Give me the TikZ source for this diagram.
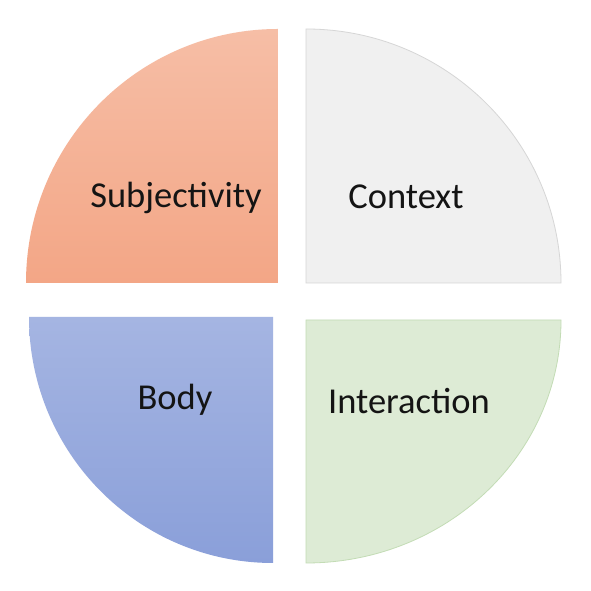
\documentclass[tikz,border=0pt]{standalone}
\usepackage{fontspec}
\setmainfont{Carlito}
\definecolor{orgT}{HTML}{F6BEA6}
\definecolor{orgB}{HTML}{F3A686}
\definecolor{bluT}{HTML}{A5B5E2}
\definecolor{bluB}{HTML}{8A9FD9}
\definecolor{gryF}{HTML}{F0F0F0}
\definecolor{gryD}{HTML}{D6D6D6}
\definecolor{grnF}{HTML}{DDEBD5}
\definecolor{grnD}{HTML}{C3DCB5}
\tikzset{
  lbl/.style={font=\fontsize{36.5}{40}\selectfont, text=black!92, inner sep=0pt, anchor=center},
}
\begin{document}
\begin{tikzpicture}[x=1pt,y=1pt]
\useasboundingbox (0,0) rectangle (591,591);
\fill[white] (0,0) rectangle (591,591);
% top-left
\shade[top color=orgT, bottom color=orgB] (278,308) -- (278,562) arc[start angle=90, end angle=180, x radius=252, y radius=254] -- cycle;
% top-right
\filldraw[fill=gryF, draw=gryD, line width=0.8pt] (306,308) -- (306,562) arc[start angle=90, end angle=0, x radius=255, y radius=254] -- cycle;
% bottom-left
\shade[top color=bluT, bottom color=bluB] (273,274) -- (273,28) arc[start angle=270, end angle=180, x radius=244, y radius=246] -- cycle;
% bottom-right
\filldraw[fill=grnF, draw=grnD, line width=0.8pt] (306,271) -- (306,28) arc[start angle=270, end angle=360, x radius=255, y radius=243] -- cycle;
\node[lbl] (subj) at (176,393) {Subjectivity};
\node[lbl] (ctx) at (406,394) {Context};
\node[lbl] (body) at (175,191) {Body};
\node[lbl] (inter) at (409,190) {Interaction};
\end{tikzpicture}
\end{document}
